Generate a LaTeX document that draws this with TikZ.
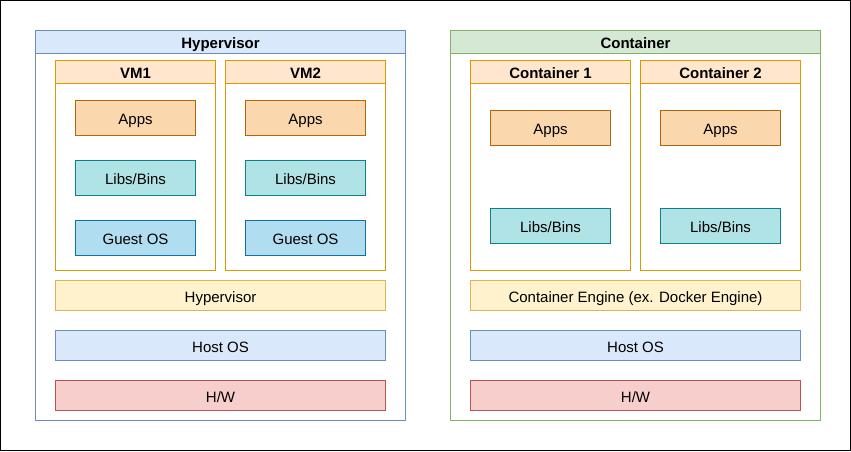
\documentclass[tikz,border=0pt]{standalone}
\usepackage{fontspec}
\setmainfont{Liberation Sans}
\definecolor{bluefill}{HTML}{DAE8FC}
\definecolor{blueline}{HTML}{6C8EBF}
\definecolor{greenfill}{HTML}{D5E8D4}
\definecolor{greenline}{HTML}{82B366}
\definecolor{vmfill}{HTML}{FFE6CC}
\definecolor{vmline}{HTML}{D79B00}
\definecolor{appfill}{HTML}{FAD7AC}
\definecolor{appline}{HTML}{B46504}
\definecolor{libfill}{HTML}{B0E3E6}
\definecolor{libline}{HTML}{0E8088}
\definecolor{osfill}{HTML}{B1DDF0}
\definecolor{osline}{HTML}{10739E}
\definecolor{hypfill}{HTML}{FFF2CC}
\definecolor{hypline}{HTML}{D6B656}
\definecolor{hwfill}{HTML}{F8CECC}
\definecolor{hwline}{HTML}{B85450}
\begin{document}
\begin{tikzpicture}[x=0.75pt,y=-0.75pt,line width=0.8pt,
    box/.style={anchor=north west,inner sep=0pt,text height=10pt,text depth=0.2pt,font=\fontsize{11.25}{13.5}\selectfont},
    frame/.style={box,draw=#1,minimum width=277.5pt,minimum height=292.5pt},
    framehead/.style={box,font=\fontsize{11.25}{13.5}\selectfont\bfseries,minimum width=277.5pt,minimum height=17.25pt},
    cell/.style={box,draw=vmline,minimum width=120pt,minimum height=157.5pt},
    cellhead/.style={box,font=\fontsize{11.25}{13.5}\selectfont\bfseries,fill=vmfill,draw=vmline,minimum width=120pt,minimum height=17.25pt},
    part/.style={box,minimum width=90pt,minimum height=26.25pt},
    layer/.style={box,minimum width=247.5pt,minimum height=22.5pt}]
        \useasboundingbox (0,0) rectangle (851,451);
        \draw[line width=1pt] (0.7,0.7) rectangle (850.3,450.3);
        % hypervisor side
        \node[frame=blueline] (hv) at (35,30) {};
        \node[framehead,fill=bluefill,draw=blueline] (hvhead) at (35,30) {Hypervisor};
        \node[cell] (vm1) at (55,60) {};
        \node[cellhead] (vm1head) at (55,60) {VM1};
        \node[cell] (vm2) at (225,60) {};
        \node[cellhead] (vm2head) at (225,60) {VM2};
        \node[part,fill=appfill,draw=appline] (apps1) at (75,100) {Apps};
        \node[part,fill=libfill,draw=libline] (libs1) at (75,160) {Libs/Bins};
        \node[part,fill=osfill,draw=osline] (guest1) at (75,220) {Guest OS};
        \node[part,fill=appfill,draw=appline] (apps2) at (245,100) {Apps};
        \node[part,fill=libfill,draw=libline] (libs2) at (245,160) {Libs/Bins};
        \node[part,fill=osfill,draw=osline] (guest2) at (245,220) {Guest OS};
        \node[layer,fill=hypfill,draw=hypline] (hyp) at (55,280) {Hypervisor};
        \node[layer,fill=bluefill,draw=blueline] (hostA) at (55,330) {Host OS};
        \node[layer,fill=hwfill,draw=hwline] (hwA) at (55,380) {H/W};
        % container side
        \node[frame=greenline] (ct) at (450,30) {};
        \node[framehead,fill=greenfill,draw=greenline] (cthead) at (450,30) {Container};
        \node[cell] (c1) at (470,60) {};
        \node[cellhead] (c1head) at (470,60) {Container 1};
        \node[cell] (c2) at (640,60) {};
        \node[cellhead] (c2head) at (640,60) {Container 2};
        \node[part,fill=appfill,draw=appline] (capps1) at (490,110) {Apps};
        \node[part,fill=libfill,draw=libline] (clibs1) at (490,208) {Libs/Bins};
        \node[part,fill=appfill,draw=appline] (capps2) at (660,110) {Apps};
        \node[part,fill=libfill,draw=libline] (clibs2) at (660,208) {Libs/Bins};
        \node[layer,fill=hypfill,draw=hypline] (engine) at (470,280) {Container Engine (ex. Docker Engine)};
        \node[layer,fill=bluefill,draw=blueline] (hostB) at (470,330) {Host OS};
        \node[layer,fill=hwfill,draw=hwline] (hwB) at (470,380) {H/W};
    \end{tikzpicture}
\end{document}
